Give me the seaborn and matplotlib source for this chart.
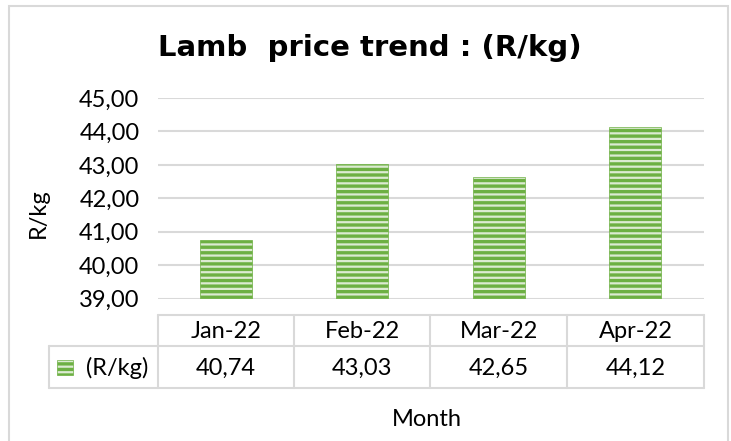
import matplotlib
matplotlib.use("Agg")
import matplotlib.pyplot as plt
import seaborn as sns
import pandas as pd
from matplotlib.lines import Line2D
from matplotlib.patches import Rectangle

months = ["Jan-22", "Feb-22", "Mar-22", "Apr-22"]
prices = [40.74, 43.03, 42.65, 44.12]
price_labels = ["40,74", "43,03", "42,65", "44,12"]
yticks = [39, 40, 41, 42, 43, 44, 45]
ytick_labels = ["39,00", "40,00", "41,00", "42,00", "43,00", "44,00", "45,00"]
series_name = "(R/kg)"
title = "Lamb  price trend : (R/kg)"

sns.set_theme(style="white")
plt.rcParams["font.family"] = ["Lato", "DejaVu Sans"]
plt.rcParams["hatch.linewidth"] = 2.4

W, H = 731, 441
fig = plt.figure(figsize=(W / 100, H / 100), dpi=100)

def fx(px):
    return px / W

def fy(py):
    return 1 - py / H

ax = fig.add_axes([fx(157.5), fy(298.7), fx(703.5) - fx(157.5), fy(98) - fy(298.7)])

df = pd.DataFrame({"Month": months, "Price": prices})
sns.barplot(data=df, x="Month", y="Price", ax=ax, width=0.38,
            color="#DCEBD2", saturation=1)
for p in ax.patches:
    p.set_hatch("---")
    p.set_edgecolor("#6DB043")
    p.set_linewidth(0.5)

ax.set_xlim(-0.5, 3.5)
ax.set_ylim(39, 45)
ax.set_yticks(yticks)
ax.set_yticklabels(ytick_labels, fontsize=17, color="#000000")
ax.set_xticks([])
ax.set_xlabel("")
ax.set_ylabel("")
ax.tick_params(axis="y", length=0, pad=13)
for s in ax.spines.values():
    s.set_visible(False)
ax.yaxis.grid(True, color="#D9D9D9", linewidth=1.5)
ax.set_axisbelow(True)

# outer border
fig.patches.append(Rectangle((fx(9), fy(445)), fx(728) - fx(9), fy(6) - fy(445),
                             transform=fig.transFigure, fill=False,
                             edgecolor="#D9D9D9", linewidth=1.5))

# title
fig.text(fx(370), fy(48), title, ha="center", va="center", fontsize=21,
         fontweight="bold", color="#000000", family=["DejaVu Sans"])

# axis labels
fig.text(fx(38), fy(213), "R/kg", rotation=90, ha="center", va="center",
         fontsize=17, color="#000000")
fig.text(fx(427), fy(420), "Month", ha="center", va="center",
         fontsize=17, color="#000000")

# data table
lc = "#D9D9D9"
cols = [158, 294, 430, 567, 704]
ytop, ymid, ybot = 315, 346, 388
def hline(y, x0, x1):
    fig.lines.append(Line2D([fx(x0), fx(x1)], [fy(y), fy(y)], transform=fig.transFigure,
                            color=lc, linewidth=1.5))
def vline(x, y0, y1):
    fig.lines.append(Line2D([fx(x), fx(x)], [fy(y0), fy(y1)], transform=fig.transFigure,
                            color=lc, linewidth=1.5))
hline(ytop, 158, 704)
hline(ymid, 49, 704)
hline(ybot, 49, 704)
vline(49, ymid, ybot)
for c in cols:
    vline(c, ytop, ybot)

for i, m in enumerate(months):
    cx = (cols[i] + cols[i + 1]) / 2
    fig.text(fx(cx), fy(331), m, ha="center", va="center", fontsize=17, color="#000000")
    fig.text(fx(cx), fy(368), price_labels[i], ha="center", va="center",
             fontsize=17, color="#000000")

# legend key
fig.patches.append(Rectangle((fx(57), fy(375)), fx(73) - fx(57), fy(360) - fy(375),
                             transform=fig.transFigure, facecolor="#DCEBD2",
                             edgecolor="#6DB043", hatch="---", linewidth=0.5))
fig.text(fx(117), fy(368), series_name, ha="center", va="center", fontsize=17,
         color="#000000")

fig.savefig("out.png", dpi=100)
